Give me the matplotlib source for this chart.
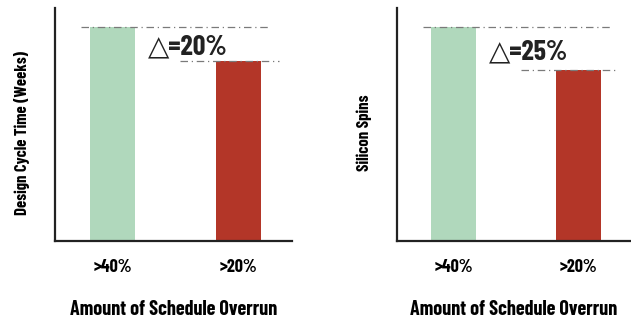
import matplotlib.pyplot as plt

plt.rcParams['font.family'] = ['Barlow Condensed', 'DejaVu Sans']
plt.rcParams['font.weight'] = 'bold'
plt.rcParams['axes.labelweight'] = 'bold'

categories = ['>40%', '>20%']
cycle_time = [100, 84]
silicon_spins = [100, 80]
delta_labels = ['\u25b3=20%', '\u25b3=25%']
y_labels = ['Design Cycle Time (Weeks)', 'Silicon Spins']
x_label = 'Amount of Schedule Overrun'

GREEN = '#b0d8bc'
RED = '#b33628'
LINE = '#7a7a7a'

fig = plt.figure(figsize=(6.31, 3.2), dpi=100)
ax1 = fig.add_axes([55/631, 79/320, 237/631, 233/320])
ax2 = fig.add_axes([397/631, 79/320, 234/631, 233/320])

for ax, vals, dlab, ylab in [(ax1, cycle_time, delta_labels[0], y_labels[0]),
                             (ax2, silicon_spins, delta_labels[1], y_labels[1])]:
    pos = [0, 1]
    ax.bar(pos, vals, width=0.36, color=[GREEN, RED])
    ax.set_xlim(-0.456, 1.425)
    ax.set_ylim(0, vals[0] * 233 / 214)
    # dash-dot guide lines at bar tops
    ax.plot([-0.25, 1.26], [vals[0], vals[0]], color=LINE, lw=0.9,
            dashes=[6, 3, 1, 3], clip_on=False)
    ax.plot([0.54, 1.32], [vals[1], vals[1]], color=LINE, lw=0.9,
            dashes=[6, 3, 1, 3], clip_on=False)
    ax.text(0.285, (vals[0] + vals[1]) / 2 - 1.5, dlab, fontsize=20,
            ha='left', va='center', color='#222222')
    ax.set_xticks(pos)
    ax.set_xticklabels(categories, fontsize=13)
    ax.set_yticks([])
    ax.tick_params(axis='x', length=0, pad=13)
    ax.set_xlabel(x_label, fontsize=14.5, labelpad=17)
    ax.set_ylabel(ylab, fontsize=12)
    ax.yaxis.set_label_coords(-0.105, 0.465)
    for s in ['top', 'right']:
        ax.spines[s].set_visible(False)
    for s in ['left', 'bottom']:
        ax.spines[s].set_linewidth(1.6)
        ax.spines[s].set_color('#222222')

fig.savefig('out.png', dpi=100)
